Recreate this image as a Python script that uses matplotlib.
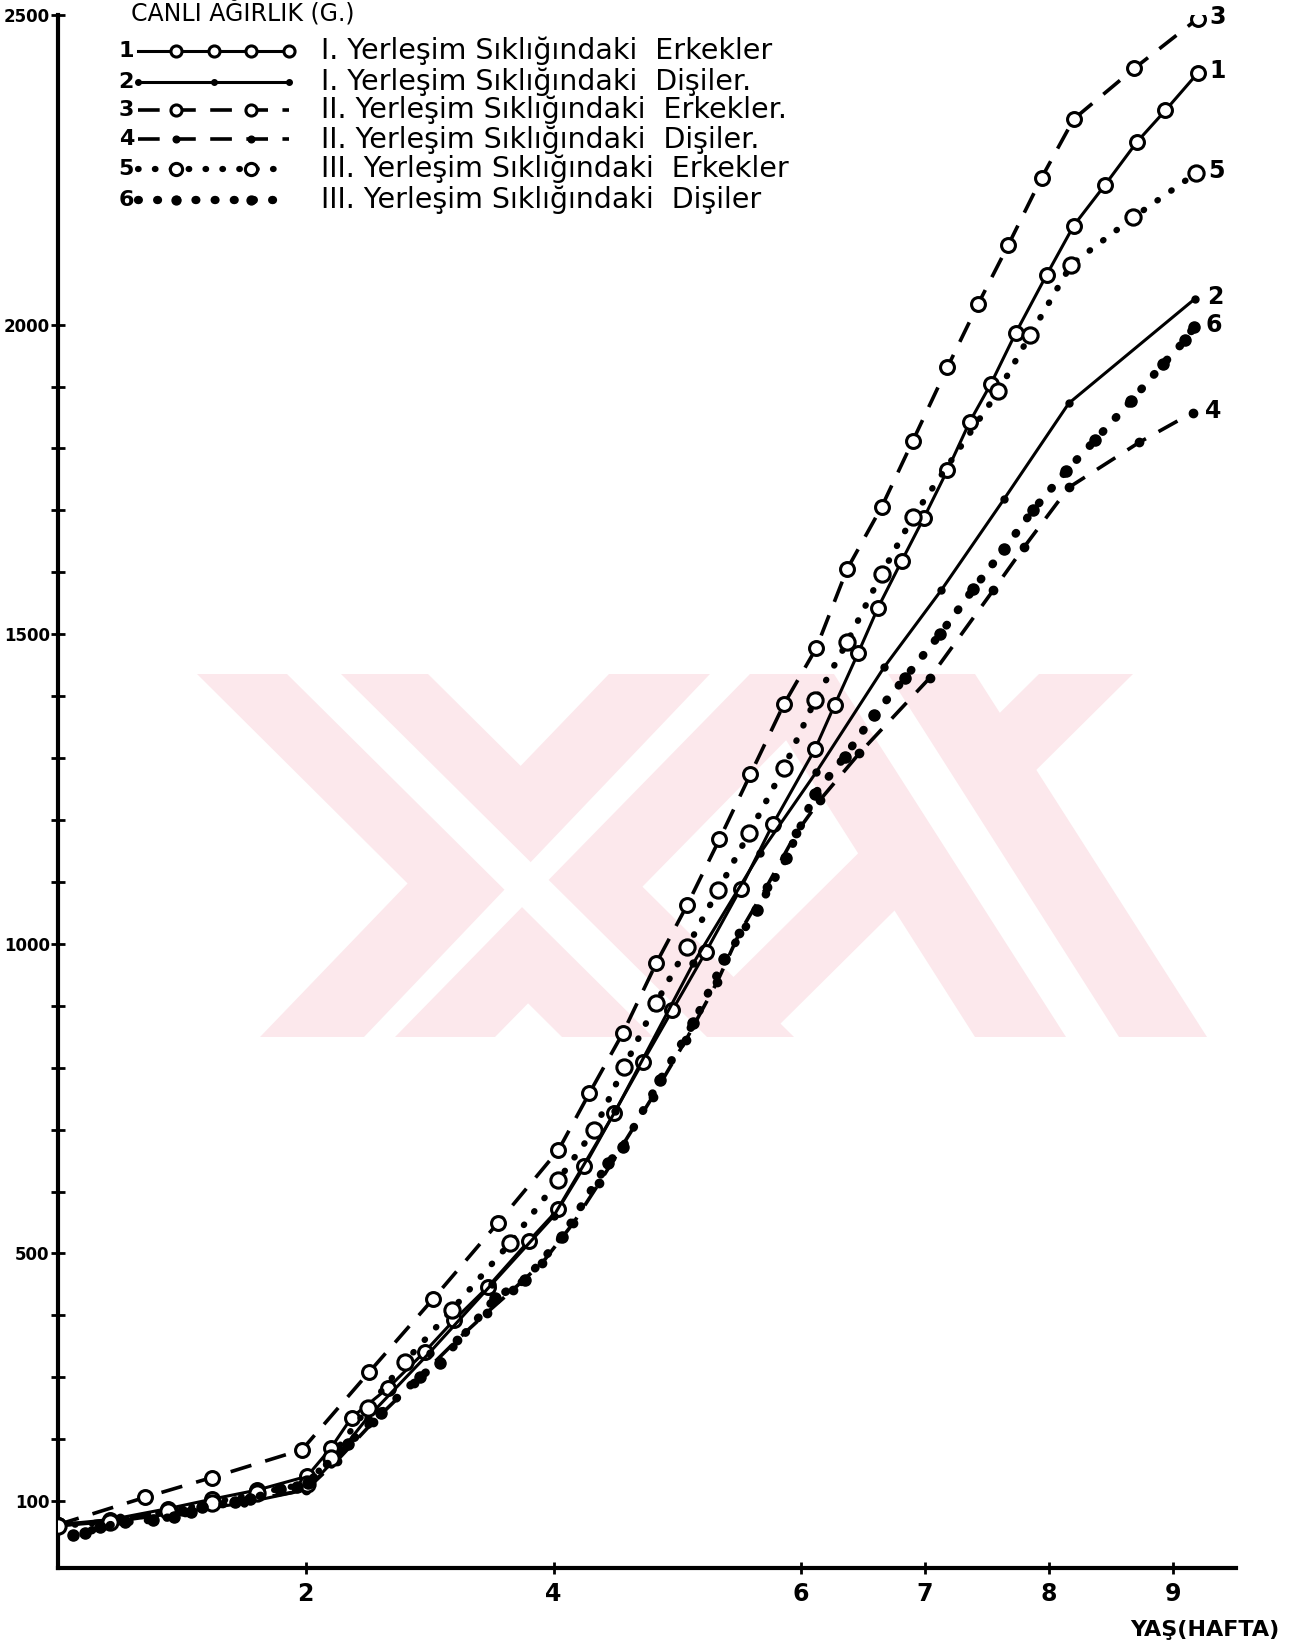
import matplotlib.pyplot as plt
from matplotlib.patches import Polygon
import numpy as np

# age in weeks / live weight in g
s1_weeks = [0, 0.42, 0.89, 1.24, 1.61, 2.01, 2.2, 2.37, 2.66, 2.96, 3.2, 3.47, 3.8, 4.04, 4.25, 4.49,
            4.72, 4.96, 5.23, 5.51, 5.77, 6.11, 6.27, 6.46, 6.62, 6.81, 6.99, 7.18, 7.36, 7.53,
            7.73, 7.98, 8.2, 8.45, 8.71, 8.94, 9.2]
s1_weight = [62, 70, 88, 103, 118, 140, 185, 235, 282, 341, 393, 446, 520, 572, 641, 727,
             809, 893, 987, 1089, 1193, 1314, 1386, 1470, 1543, 1618, 1688, 1765, 1843, 1904,
             1986, 2080, 2160, 2225, 2295, 2346, 2406]

s2_weeks = [0, 0.5, 1.0, 1.5, 2.0, 2.2, 2.5, 3.0, 3.5, 4.0, 4.5, 5.13, 5.67, 6.12, 6.67, 7.13,
            7.64, 8.16, 9.18]
s2_weight = [60, 68, 82, 97, 118, 160, 235, 340, 450, 560, 730, 969, 1147, 1277, 1447, 1571,
             1719, 1873, 2042]

s3_weeks = [0, 0.7, 1.24, 1.97, 2.51, 3.03, 3.55, 4.04, 4.29, 4.56, 4.83, 5.08, 5.34, 5.59,
            5.86, 6.12, 6.37, 6.65, 6.9, 7.18, 7.43, 7.67, 7.94, 8.2, 8.69, 9.2]
s3_weight = [62, 106, 138, 183, 308, 427, 549, 667, 759, 856, 969, 1063, 1169, 1274,
             1387, 1477, 1605, 1706, 1812, 1931, 2034, 2128, 2237, 2332, 2414, 2494]

s4_weeks = [0, 0.5, 1.0, 1.5, 2.0, 2.25, 2.54, 2.87, 3.22, 3.46, 3.67, 3.91, 4.16, 4.37, 4.8,
            5.07, 5.32, 5.5, 5.72, 5.96, 6.15, 6.47, 7.04, 7.55, 7.8, 8.16, 8.73, 9.16]
s4_weight = [60, 72, 86, 100, 118, 165, 227, 291, 360, 404, 441, 485, 549, 614, 753,
             845, 938, 1017, 1092, 1179, 1232, 1308, 1430, 1571, 1641, 1737, 1810, 1858]

s5_weeks = [0, 0.42, 0.89, 1.24, 1.61, 2.01, 2.2, 2.5, 2.8, 3.18, 3.65, 4.04, 4.33, 4.57, 4.83,
            5.08, 5.33, 5.58, 5.86, 6.11, 6.37, 6.65, 6.9, 7.59, 7.85, 8.18, 8.68, 9.19]
s5_weight = [60, 66, 84, 97, 113, 128, 170, 250, 325, 409, 517, 619, 700, 801, 905,
             995, 1087, 1179, 1284, 1393, 1487, 1598, 1689, 1892, 1984, 2097, 2173, 2245]

s6_weeks = [0.12, 0.22, 0.34, 0.54, 0.77, 0.94, 1.07, 1.16, 1.43, 1.55, 1.79, 1.93, 2.02, 2.34,
            2.61, 2.92, 3.08, 3.53, 3.77, 4.07, 4.44, 4.56, 4.86, 5.13, 5.38, 5.64, 5.88, 6.11,
            6.35, 6.59, 6.84, 7.12, 7.39, 7.64, 7.87, 8.14, 8.37, 8.66, 8.92, 9.1, 9.17]
s6_weight = [46, 49, 58, 66, 70, 75, 83, 90, 98, 103, 119, 122, 130, 192,
             243, 301, 323, 428, 457, 527, 646, 672, 780, 872, 975, 1054, 1138, 1242,
             1302, 1370, 1430, 1500, 1573, 1638, 1700, 1764, 1813, 1876, 1936, 1975, 1996]

series_labels = ["I. Yerleşim Sıklığındaki  Erkekler",
                 "I. Yerleşim Sıklığındaki  Dişiler.",
                 "II. Yerleşim Sıklığındaki  Erkekler.",
                 "II. Yerleşim Sıklığındaki  Dişiler.",
                 "III. Yerleşim Sıklığındaki  Erkekler",
                 "III. Yerleşim Sıklığındaki  Dişiler"]

x_ticks = [2, 4, 6, 7, 8, 9]
y_ticks = [100, 500, 1000, 1500, 2000, 2500]

styles = [
    dict(ls='-', lw=2.2, marker='o', ms=10, mfc='white', mec='black', mew=2.2),
    dict(ls='-', lw=2.2, marker='o', ms=5, mfc='black', mec='black'),
    dict(ls=(0, (6, 4)), lw=2.6, marker='o', ms=10, mfc='white', mec='black', mew=2.2),
    dict(ls=(0, (6, 4)), lw=2.6, marker='o', ms=6, mfc='black', mec='black'),
    dict(ls=(0, (0.1, 2.6)), lw=4.5, dash_capstyle='round', marker='o', ms=11, mfc='white',
         mec='black', mew=2.2),
    dict(ls=(0, (0.1, 2.2)), lw=6, dash_capstyle='round', marker='o', ms=8, mfc='black', mec='black'),
]
legend_marks = [[1, 2, 3, 4], [0, 2, 4], [1, 3], [1, 3], [1, 3], [1, 3]]


def watermark(fig):
    # faint pink logo of the scan, pixel positions of the 1307x1650 page
    W, H = 1307.0, 1650.0
    top, bot = 674, 1037
    pink = '#fce8ec'
    bands = [(197, 428, 562, 794), (609, 851, 260, 495),
             (744, 975, 975, 1207), (1039, 1133, 673, 767)]
    gaps = [(287, 341, 653, 707), (710, 750, 364, 395),
            (834, 888, 1066, 1119)]
    for group, col, z in [(bands, pink, -3), (gaps, 'white', -2)]:
        for a, b, c, d in group:
            pts = [(a / W, 1 - top / H), (b / W, 1 - top / H), (d / W, 1 - bot / H), (c / W, 1 - bot / H)]
            fig.patches.append(Polygon(pts, closed=True, transform=fig.transFigure,
                                       facecolor=col, edgecolor='none', zorder=z))


def main():
    fig = plt.figure(figsize=(13.07, 16.5), dpi=100)
    watermark(fig)
    ax = fig.add_axes([0.0444, 0.0497, 0.9013, 0.9412])
    ax.set_facecolor('none')

    data = [(s1_weeks, s1_weight), (s2_weeks, s2_weight), (s3_weeks, s3_weight),
            (s4_weeks, s4_weight), (s5_weeks, s5_weight), (s6_weeks, s6_weight)]

    for i, (w, v) in enumerate(data):
        ax.plot(w, v, color='black', zorder=3, **styles[i])
        # curve number at the end of each line
        ax.annotate(str(i + 1), (w[-1], v[-1]), xytext=(12, 2), textcoords='offset pixels',
                    fontsize=17, fontweight='bold', va='center', ha='left')

    ax.set_xlim(0, 9.51)
    ax.set_ylim(-8, 2500)

    for side in ['top', 'right']:
        ax.spines[side].set_visible(False)
    for side in ['left', 'bottom']:
        ax.spines[side].set_linewidth(3)

    ax.set_xticks(x_ticks)
    ax.set_xticklabels([str(t) for t in x_ticks], fontsize=17, fontweight='bold')
    ax.set_yticks(y_ticks)
    ax.set_yticklabels([str(t) for t in y_ticks], fontsize=12, fontweight='bold')
    ax.set_yticks(np.arange(100, 2100, 100), minor=True)
    ax.tick_params(axis='y', which='both', direction='inout', length=10, width=2, pad=1)
    ax.tick_params(axis='x', direction='inout', length=8, width=2, pad=6)

    # legend, drawn by hand like in the original
    rows_y = [0.977, 0.957, 0.939, 0.920, 0.901, 0.881]
    sample_x = np.linspace(0.068, 0.196, 5)
    for i, lab in enumerate(series_labels):
        y = rows_y[i]
        st = dict(styles[i])
        st['ms'] = st['ms'] * 0.8
        ax.text(0.058, y, str(i + 1), transform=ax.transAxes, fontsize=16, fontweight='bold',
                va='center', ha='center')
        ax.plot(sample_x, [y] * 5, transform=ax.transAxes, color='black',
                markevery=legend_marks[i], clip_on=False, **st)
        ax.text(0.223, y, lab, transform=ax.transAxes, fontsize=20.5, va='center', ha='left')

    fig.text(0.100, 0.992, "CANLI AĞIRLIK (G.)", fontsize=17, va='center', ha='left')
    fig.text(0.865, 0.012, "YAŞ(HAFTA)", fontsize=16, fontweight='bold', va='center', ha='left')

    fig.savefig('out.png', dpi=100, facecolor='white')


main()
